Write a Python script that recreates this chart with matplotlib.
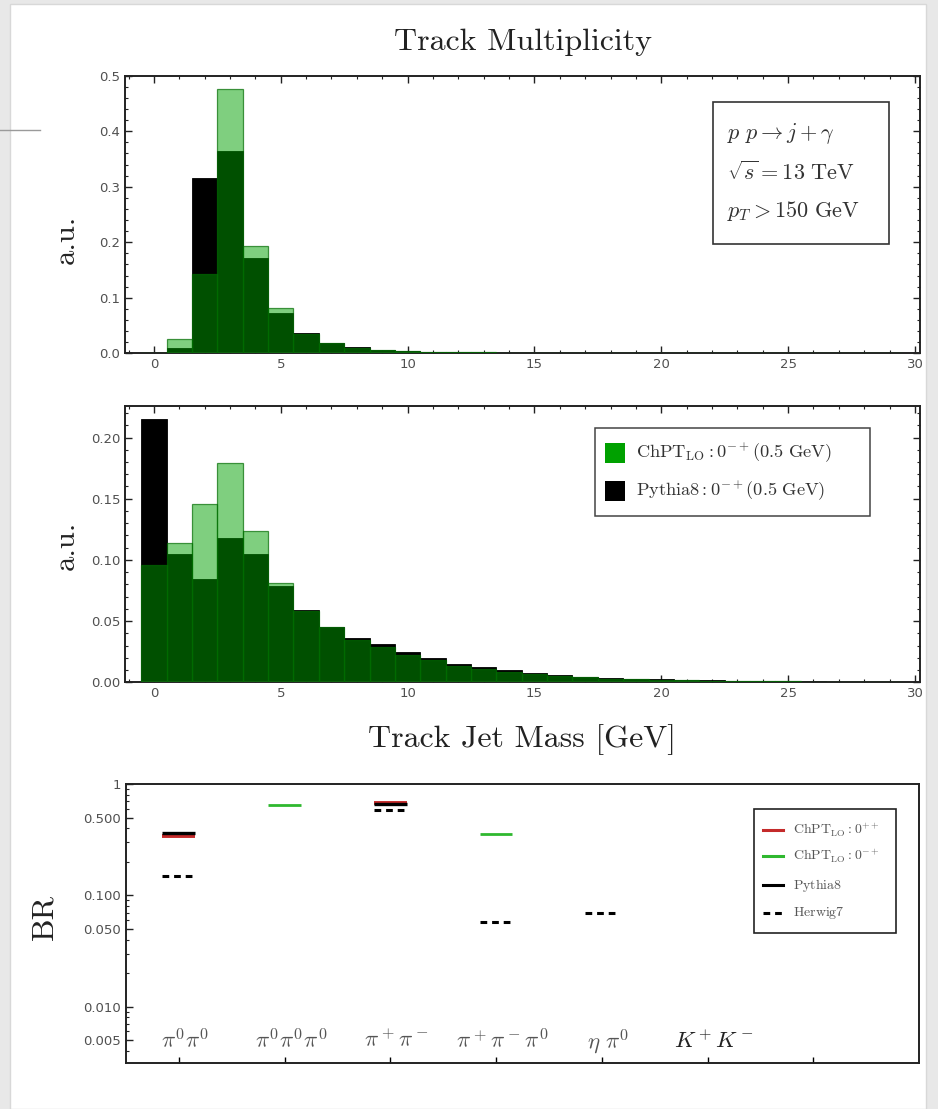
import numpy as np
import matplotlib
matplotlib.use("Agg")
import matplotlib.pyplot as plt
from matplotlib.patches import Rectangle
from matplotlib.lines import Line2D
from matplotlib.ticker import MultipleLocator, FixedLocator, NullFormatter

plt.rcParams['mathtext.fontset'] = 'cm'
plt.rcParams['font.family'] = ['DejaVu Sans']

W, H = 938, 1109

# ---------------- data ----------------
bin_centers = np.arange(0, 30)

mult_chpt = [0, 0.026, 0.143, 0.476, 0.193, 0.082, 0.035, 0.019, 0.010, 0.006,
             0.005, 0.003, 0.002, 0.0015, 0.001, 0.0008, 0.0005, 0.0004, 0.0003, 0.0002,
             0.0002, 0.0001, 0.0001, 0.0001, 0, 0, 0, 0, 0, 0]
mult_pythia = [0, 0.009, 0.315, 0.365, 0.171, 0.073, 0.036, 0.019, 0.011, 0.006,
               0.004, 0.003, 0.002, 0.0015, 0.001, 0.0008, 0.0005, 0.0004, 0.0003, 0.0002,
               0.0002, 0.0001, 0.0001, 0.0001, 0, 0, 0, 0, 0, 0]

mass_chpt = [0.096, 0.114, 0.146, 0.179, 0.124, 0.081, 0.058, 0.045, 0.0346, 0.0286,
             0.022, 0.018, 0.013, 0.011, 0.0087, 0.0065, 0.005, 0.004, 0.003, 0.0024,
             0.002, 0.0016, 0.0014, 0.0011, 0.0009, 0.0008, 0.0006, 0.0005, 0.0004, 0.0003]
mass_pythia = [0.215, 0.105, 0.084, 0.118, 0.105, 0.079, 0.059, 0.045, 0.036, 0.031,
               0.0245, 0.020, 0.0147, 0.0128, 0.010, 0.0079, 0.006, 0.0046, 0.0035, 0.0027,
               0.0024, 0.0019, 0.0016, 0.0013, 0.0011, 0.0009, 0.0007, 0.0006, 0.0005, 0.0004]

channels = [r'$\pi^0\pi^0$', r'$\pi^0\pi^0\pi^0$', r'$\pi^+\pi^-$',
            r'$\pi^+\pi^-\pi^0$', r'$\eta\ \pi^0$', r'$K^+K^-$']
br_chpt_pp = [0.34, np.nan, 0.68, np.nan, np.nan, np.nan]
br_chpt_mp = [np.nan, 0.646, np.nan, 0.354, np.nan, np.nan]
br_pythia = [0.365, np.nan, 0.655, np.nan, np.nan, np.nan]
br_herwig = [0.149, np.nan, 0.59, 0.058, 0.070, np.nan]

# ---------------- styles ----------------
GREEN = (0.0, 0.63, 0.0)
RED = '#c42a2a'
LGREEN = '#2fb82f'
TICKC = '#505050'
SERIF = 'cmr10'


def fx(x):
    return x / W


def fy(y):
    return 1 - y / H


fig = plt.figure(figsize=(W / 100, H / 100), dpi=100)
fig.patch.set_facecolor('#e8e8e8')
card = Rectangle((fx(10), 0), fx(926) - fx(10), fy(4), transform=fig.transFigure,
                 facecolor='white', edgecolor='#d8d8d8', lw=1, zorder=-10)
fig.patches.append(card)
fig.add_artist(Line2D([0, fx(40)], [fy(130), fy(130)], transform=fig.transFigure,
                      color='#9a9a9a', lw=1))


def axes_px(x0, y0, x1, y1):
    return fig.add_axes([fx(x0), fy(y1), fx(x1) - fx(x0), fy(y0) - fy(y1)])


def style_hist_axes(ax, ymax, ymajor, yminor, fmt):
    ax.set_xlim(-1.14, 30.2)
    ax.set_ylim(0, ymax)
    ax.xaxis.set_major_locator(MultipleLocator(5))
    ax.xaxis.set_minor_locator(MultipleLocator(1))
    ax.yaxis.set_major_locator(MultipleLocator(ymajor))
    ax.yaxis.set_minor_locator(MultipleLocator(yminor))
    ax.yaxis.set_major_formatter(plt.FuncFormatter(lambda v, p: fmt.format(v)))
    ax.tick_params(which='both', direction='in', top=True, right=True,
                   labelsize=9.5, labelcolor=TICKC, color='#222')
    ax.tick_params(which='major', length=5, width=1)
    ax.tick_params(which='minor', length=2.5, width=0.8)
    for s in ax.spines.values():
        s.set_linewidth(1.4)
        s.set_color('#222')


def draw_hists(ax, chpt, pythia):
    ax.bar(bin_centers, pythia, width=1.0, color='black', edgecolor='black',
           linewidth=0.6, zorder=2)
    ax.bar(bin_centers, chpt, width=1.0, color=GREEN + (0.5,),
           edgecolor=(0.0, 0.42, 0.0, 0.7), linewidth=0.9, zorder=3)


# ---------------- top panel ----------------
ax1 = axes_px(125, 75.7, 920, 353.3)
draw_hists(ax1, mult_chpt, mult_pythia)
style_hist_axes(ax1, 0.5, 0.1, 0.02, '{:.1f}')

# ---------------- middle panel ----------------
ax2 = axes_px(125, 405.7, 920, 682.3)
draw_hists(ax2, mass_chpt, mass_pythia)
style_hist_axes(ax2, 0.226, 0.05, 0.01, '{:.2f}')

# ---------------- bottom panel ----------------
ax3 = axes_px(126, 784, 919, 1063.3)
ax3.set_yscale('log')
ax3.set_xlim(0.5, 8.0)
ax3.set_ylim(0.0031, 1.0)
pos = np.arange(1, len(channels) + 1)
hw = 0.155
for vals, col, ls, lw in [(br_chpt_pp, RED, '-', 2.8), (br_chpt_mp, LGREEN, '-', 2.0),
                          (br_pythia, 'black', '-', 2.4), (br_herwig, 'black', (0, (2.2, 1.6)), 2.2)]:
    v = np.array(vals, dtype=float)
    m = ~np.isnan(v)
    ax3.hlines(v[m], pos[m] - hw, pos[m] + hw, colors=col, linestyles=ls, linewidth=lw, zorder=3)

for p, lab in zip(pos, channels):
    col = '#222222' if 'K' in lab else '#555555'
    ax3.text(p + 0.06, 0.0049, lab, ha='center', va='center', fontsize=16.5, color=col)

ax3.xaxis.set_major_locator(FixedLocator(list(range(1, 8))))
ax3.xaxis.set_major_formatter(NullFormatter())
ax3.set_yticks([1, 0.5, 0.1, 0.05, 0.01, 0.005])
ax3.set_yticklabels(['1', '0.500', '0.100', '0.050', '0.010', '0.005'])
ax3.tick_params(axis='x', which='both', direction='in', top=False, bottom=True, length=4, width=1)
ax3.tick_params(axis='y', which='both', direction='in', left=True, right=False,
                labelsize=9.5, labelcolor=TICKC, color='#222')
ax3.tick_params(axis='y', which='major', length=5, width=1)
ax3.tick_params(axis='y', which='minor', length=2.5, width=0.8)
for s in ax3.spines.values():
    s.set_linewidth(1.4)
    s.set_color('#222')

# ---------------- labels ----------------
fig.text(fx(523), fy(42), 'Track Multiplicity', family=SERIF, ha='center', va='center',
         fontsize=23, color='#222')
fig.text(fx(66), fy(239), 'a.u.', family=SERIF, ha='center', va='center', rotation=90,
         fontsize=22, color='#222')
fig.text(fx(66), fy(545), 'a.u.', family=SERIF, ha='center', va='center', rotation=90,
         fontsize=22, color='#222')
fig.text(fx(522), fy(740), 'Track Jet Mass [GeV]', family=SERIF, ha='center', va='center',
         fontsize=23, color='#222')
fig.text(fx(45), fy(917), 'BR', family=SERIF, ha='center', va='center', rotation=90,
         fontsize=23, color='#222')

# ---------------- top info box ----------------
fig.patches.append(Rectangle((fx(713), fy(244)), fx(889) - fx(713), fy(102) - fy(244),
                             transform=fig.transFigure, facecolor='white',
                             edgecolor='#333', lw=1.2, zorder=5))
for yy, t in [(133, r'$p\ p \rightarrow j+\gamma$'),
              (172, r'$\sqrt{s} = 13\ \mathrm{TeV}$'),
              (211, r'$p_T > 150\ \mathrm{GeV}$')]:
    fig.text(fx(727), fy(yy), t, ha='left', va='center', fontsize=16, color='#333', zorder=6)

# ---------------- middle legend ----------------
fig.patches.append(Rectangle((fx(595), fy(516)), fx(870) - fx(595), fy(428) - fy(516),
                             transform=fig.transFigure, facecolor='white',
                             edgecolor='#444', lw=1.1, zorder=5))
for yy, c, t in [(453, GREEN, r'$\mathrm{ChPT_{LO}}:0^{-+}(0.5\ \mathrm{GeV})$'),
                 (491, 'black', r'$\mathrm{Pythia8}:0^{-+}(0.5\ \mathrm{GeV})$')]:
    fig.patches.append(Rectangle((fx(605), fy(yy + 10)), fx(625) - fx(605), fy(yy - 10) - fy(yy + 10),
                                 transform=fig.transFigure, facecolor=c, edgecolor='none', zorder=6))
    fig.text(fx(636), fy(yy), t, ha='left', va='center', fontsize=13.2, color='#333', zorder=6)

# ---------------- bottom legend ----------------
fig.patches.append(Rectangle((fx(754), fy(933)), fx(896) - fx(754), fy(809) - fy(933),
                             transform=fig.transFigure, facecolor='white',
                             edgecolor='#222', lw=1.2, zorder=5))
for yy, c, ls, t in [(830, RED, '-', r'$\mathrm{ChPT_{LO}}:0^{++}$'),
                     (856, LGREEN, '-', r'$\mathrm{ChPT_{LO}}:0^{-+}$'),
                     (885, 'black', '-', r'$\mathrm{Pythia8}$'),
                     (913, 'black', (0, (2.2, 1.6)), r'$\mathrm{Herwig7}$')]:
    fig.add_artist(Line2D([fx(763), fx(783)], [fy(yy), fy(yy)], transform=fig.transFigure,
                          color=c, lw=2.2, linestyle=ls, zorder=6))
    fig.text(fx(793), fy(yy), t, ha='left', va='center', fontsize=10, color='#555', zorder=6)

fig.savefig('out.png', dpi=100, facecolor=fig.get_facecolor())
